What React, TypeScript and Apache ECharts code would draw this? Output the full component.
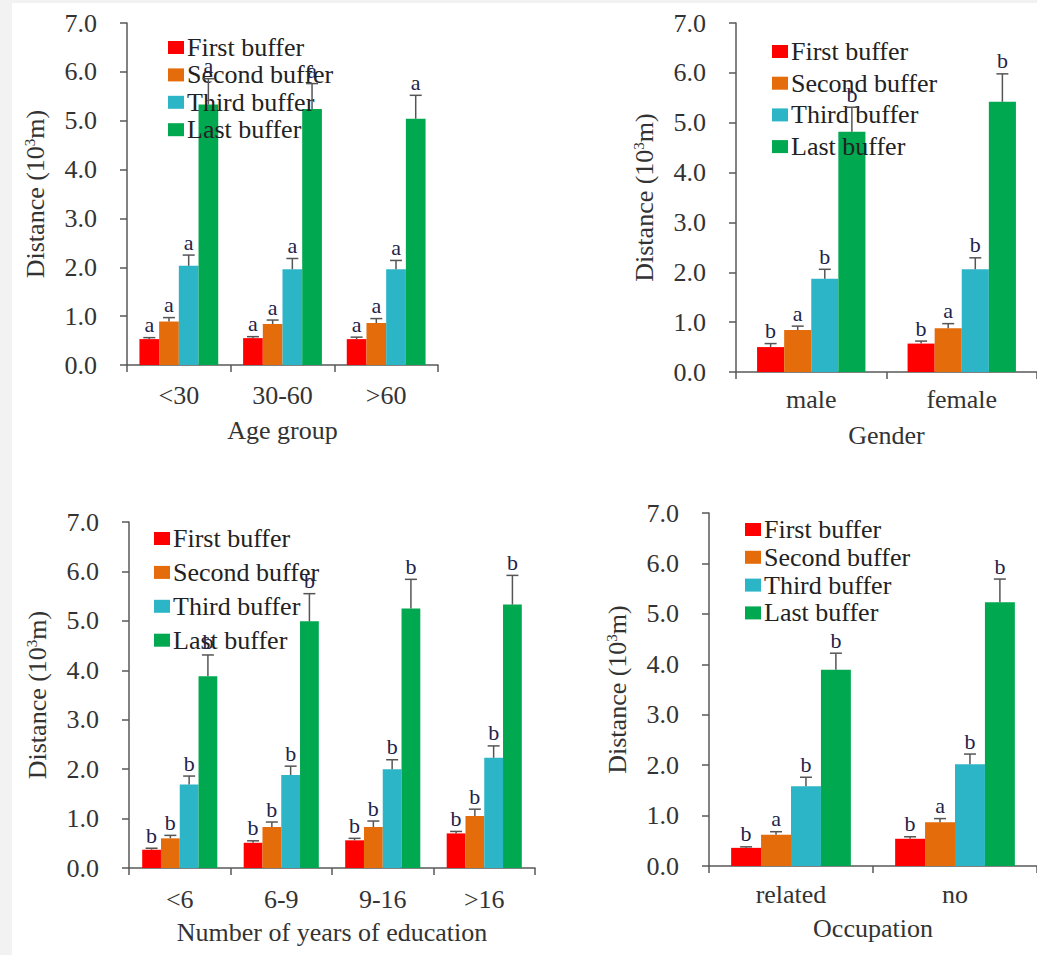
import React, { useEffect, useRef } from "react";
import * as echarts from "echarts";

const bufferNames = ["First buffer", "Second buffer", "Third buffer", "Last buffer"];
const bufferColors = ["#FF0000", "#E46C0A", "#2CB5C6", "#00A84F"];

// Panel 1: Age group
const ageCats = ["<30", "30-60", ">60"];
const ageFirst = [0.53, 0.55, 0.53];
const ageSecond = [0.89, 0.84, 0.86];
const ageThird = [2.03, 1.96, 1.96];
const ageLast = [5.33, 5.24, 5.04];
const ageFirstErr = [0.03, 0.03, 0.04];
const ageSecondErr = [0.08, 0.08, 0.09];
const ageThirdErr = [0.22, 0.22, 0.18];
const ageLastErr = [0.53, 0.52, 0.48];
const ageLetters = [["a", "a", "a"], ["a", "a", "a"], ["a", "a", "a"], ["a", "a", "a"]];

// Panel 2: Gender
const genderCats = ["male", "female"];
const genderFirst = [0.5, 0.57];
const genderSecond = [0.84, 0.88];
const genderThird = [1.87, 2.06];
const genderLast = [4.82, 5.42];
const genderFirstErr = [0.07, 0.05];
const genderSecondErr = [0.08, 0.09];
const genderThirdErr = [0.19, 0.23];
const genderLastErr = [0.49, 0.56];
const genderLetters = [["b", "b"], ["a", "a"], ["b", "b"], ["b", "b"]];

// Panel 3: Number of years of education
const eduCats = ["<6", "6-9", "9-16", ">16"];
const eduFirst = [0.37, 0.51, 0.56, 0.7];
const eduSecond = [0.6, 0.83, 0.83, 1.05];
const eduThird = [1.69, 1.88, 2.0, 2.23];
const eduLast = [3.88, 4.99, 5.25, 5.33];
const eduFirstErr = [0.03, 0.04, 0.04, 0.04];
const eduSecondErr = [0.06, 0.1, 0.12, 0.14];
const eduThirdErr = [0.17, 0.18, 0.19, 0.24];
const eduLastErr = [0.43, 0.56, 0.59, 0.59];
const eduLetters = [["b", "b", "b", "b"], ["b", "b", "b", "b"], ["b", "b", "b", "b"], ["b", "b", "b", "b"]];

// Panel 4: Occupation
const occCats = ["related", "no"];
const occFirst = [0.36, 0.54];
const occSecond = [0.62, 0.87];
const occThird = [1.58, 2.02];
const occLast = [3.89, 5.23];
const occFirstErr = [0.02, 0.04];
const occSecondErr = [0.06, 0.07];
const occThirdErr = [0.18, 0.2];
const occLastErr = [0.33, 0.46];
const occLetters = [["b", "b"], ["a", "a"], ["b", "b"], ["b", "b"]];

const yTicks = [0, 1, 2, 3, 4, 5, 6, 7];

const FONT = "Liberation Serif";
const AXIS_COLOR = "#595959";
const TEXT_COLOR = "#333333";
const FS = 26;

type Panel = {
  cats: string[];
  means: number[][];
  errs: number[][];
  letters: string[][];
  xName: string;
  grid: { left: number; top: number; width: number; height: number };
  gap: number; // category gap fraction
  legend: { left: number; top: number; itemGap: number };
  labelMargin: number;
  xNameGap: number;
};

const panels: Panel[] = [
  {
    cats: ageCats,
    means: [ageFirst, ageSecond, ageThird, ageLast],
    errs: [ageFirstErr, ageSecondErr, ageThirdErr, ageLastErr],
    letters: ageLetters,
    xName: "Age group",
    grid: { left: 127, top: 23, width: 311, height: 342 },
    gap: 0.24,
    legend: { left: 163, top: 29, itemGap: 0.4 },
    labelMargin: 17,
    xNameGap: 52,
  },
  {
    cats: genderCats,
    means: [genderFirst, genderSecond, genderThird, genderLast],
    errs: [genderFirstErr, genderSecondErr, genderThirdErr, genderLastErr],
    letters: genderLetters,
    xName: "Gender",
    grid: { left: 736, top: 23, width: 312, height: 349 },
    gap: 0.28,
    legend: { left: 767, top: 33, itemGap: 4.7 },
    labelMargin: 14,
    xNameGap: 50,
  },
  {
    cats: eduCats,
    means: [eduFirst, eduSecond, eduThird, eduLast],
    errs: [eduFirstErr, eduSecondErr, eduThirdErr, eduLastErr],
    letters: eduLetters,
    xName: "Number of years of education",
    grid: { left: 129, top: 522, width: 406, height: 346 },
    gap: 0.26,
    legend: { left: 149, top: 520, itemGap: 6.9 },
    labelMargin: 18,
    xNameGap: 51,
  },
  {
    cats: occCats,
    means: [occFirst, occSecond, occThird, occLast],
    errs: [occFirstErr, occSecondErr, occThirdErr, occLastErr],
    letters: occLetters,
    xName: "Occupation",
    grid: { left: 709, top: 513, width: 336, height: 353 },
    gap: 0.27,
    legend: { left: 740, top: 511, itemGap: 0.8 },
    labelMargin: 15,
    xNameGap: 49,
  },
];

function buildOption() {
  const grids: any[] = [];
  const xAxes: any[] = [];
  const yAxes: any[] = [];
  const legends: any[] = [];
  const series: any[] = [];

  panels.forEach((p, pi) => {
    grids.push({ ...p.grid, containLabel: false });
    xAxes.push({
      type: "category",
      gridIndex: pi,
      data: p.cats,
      name: p.xName,
      nameLocation: "middle",
      nameGap: p.xNameGap,
      nameTextStyle: { fontFamily: FONT, fontSize: FS, color: TEXT_COLOR },
      axisLine: { show: true, lineStyle: { color: AXIS_COLOR, width: 1.5 } },
      axisTick: { show: true, alignWithLabel: false, length: 7, lineStyle: { color: AXIS_COLOR, width: 1.5 } },
      axisLabel: { fontFamily: FONT, fontSize: FS, color: TEXT_COLOR, margin: p.labelMargin, interval: 0 },
      splitLine: { show: false },
    });
    yAxes.push({
      type: "value",
      gridIndex: pi,
      min: yTicks[0],
      max: yTicks[yTicks.length - 1],
      interval: 1,
      name: "Distance (10{sup|3}m)",
      nameLocation: "middle",
      nameGap: 79,
      nameRotate: 90,
      nameTextStyle: {
        fontFamily: FONT,
        fontSize: FS,
        color: TEXT_COLOR,
        rich: { sup: { fontFamily: FONT, fontSize: 15, color: TEXT_COLOR, verticalAlign: "top", lineHeight: 14 } },
      },
      axisLine: { show: true, lineStyle: { color: AXIS_COLOR, width: 1.5 } },
      axisTick: { show: true, inside: false, length: 7, lineStyle: { color: AXIS_COLOR, width: 1.5 } },
      axisLabel: {
        fontFamily: FONT,
        fontSize: FS,
        color: TEXT_COLOR,
        margin: 30,
        formatter: (v: number) => v.toFixed(1),
      },
      splitLine: { show: false },
    });
    legends.push({
      orient: "vertical",
      left: p.legend.left,
      top: p.legend.top,
      itemWidth: 16,
      itemHeight: 13,
      itemGap: p.legend.itemGap,
      icon: "rect",
      selectedMode: false,
      data: bufferNames,
      textStyle: { fontFamily: FONT, fontSize: FS, lineHeight: 27, color: "#222222", padding: [0, 0, 0, -2] },
    });

    bufferNames.forEach((name, si) => {
      series.push({
        type: "bar",
        name,
        xAxisIndex: pi,
        yAxisIndex: pi,
        data: p.means[si],
        barGap: "0%",
        barCategoryGap: `${Math.round(p.gap * 100)}%`,
        itemStyle: { color: bufferColors[si] },
        z: 2,
      });
    });

    const errData: number[][] = [];
    const letterList: string[] = [];
    p.cats.forEach((_, ci) => {
      bufferNames.forEach((__, si) => {
        errData.push([ci, si, p.means[si][ci], p.errs[si][ci]]);
        letterList.push(p.letters[si][ci]);
      });
    });
    const gap = p.gap;
    series.push({
      type: "custom",
      name: `err-${pi}`,
      xAxisIndex: pi,
      yAxisIndex: pi,
      data: errData,
      z: 5,
      silent: true,
      encode: { x: 0, y: 2 },
      renderItem: (params: any, api: any) => {
        const ci = api.value(0);
        const si = api.value(1);
        const v = api.value(2);
        const e = api.value(3);
        const base = api.coord([ci, 0]);
        const band = api.size([1, 0])[0];
        const groupW = band * (1 - gap);
        const w = groupW / 4;
        const x = base[0] - groupW / 2 + w * (si + 0.5);
        const top = api.coord([ci, v])[1];
        const capY = api.coord([ci, v + e])[1];
        const letter = letterList[params.dataIndex];
        return {
          type: "group",
          children: [
            {
              type: "line",
              shape: { x1: x, y1: top, x2: x, y2: capY },
              style: { stroke: "#555555", lineWidth: 1.5 },
            },
            {
              type: "line",
              shape: { x1: x - 6, y1: capY, x2: x + 6, y2: capY },
              style: { stroke: "#555555", lineWidth: 1.5 },
            },
            {
              type: "text",
              x: x,
              y: capY - 2,
              style: {
                text: letter,
                fill: "#23234a",
                font: `22px ${FONT}`,
                textAlign: "center",
                textVerticalAlign: "bottom",
              },
            },
          ],
        };
      },
    });
  });

  return {
    animation: false,
    backgroundColor: "#ffffff",
    graphic: [
      { type: "rect", left: 0, top: 0, shape: { width: 12, height: 955 }, style: { fill: "#f2f2f2" }, silent: true, z: -10 },
      { type: "rect", left: 0, top: 0, shape: { width: 1037, height: 3 }, style: { fill: "#f2f2f2" }, silent: true, z: -10 },
    ],
    grid: grids,
    xAxis: xAxes,
    yAxis: yAxes,
    legend: legends,
    series,
  };
}

export default function App() {
  const ref = useRef<HTMLDivElement>(null);
  useEffect(() => {
    if (!ref.current) return;
    const chart = echarts.init(ref.current, undefined, { renderer: "svg" });
    chart.setOption(buildOption() as any);
    return () => chart.dispose();
  }, []);
  return (
    <div
      ref={ref}
      style={{ position: "fixed", left: 0, top: 0, width: 1037, height: 955, background: "#ffffff" }}
    />
  );
}
